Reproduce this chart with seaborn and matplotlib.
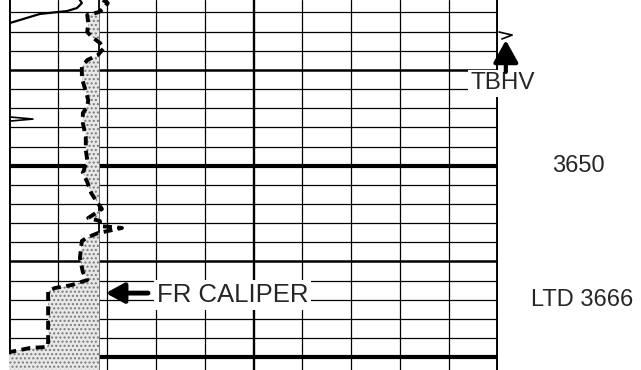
import matplotlib
matplotlib.use("Agg")
import matplotlib.pyplot as plt
import seaborn as sns
import numpy as np
import pandas as pd

# caliper log (inches) vs depth
depth = [3632.70, 3633.02, 3633.54, 3633.96, 3634.27, 3635.10, 3636.04, 3636.57,
         3637.19, 3637.71, 3638.44, 3638.97, 3639.70, 3640.85, 3641.89, 3643.14,
         3643.87, 3644.50, 3645.54, 3647.00, 3648.36, 3649.40, 3650.76, 3651.70,
         3652.85, 3653.79, 3654.52, 3655.46, 3655.77, 3656.30, 3656.50, 3656.82,
         3657.03, 3657.45, 3657.86, 3659.64, 3661.10, 3661.93, 3662.45, 3662.77,
         3663.08, 3665.27, 3668.40, 3668.92, 3669.03, 3669.45, 3669.65, 3671.50]
caliper = [7.92, 8.02, 7.94, 7.84, 7.60, 7.62, 7.60, 7.70,
           7.86, 7.94, 7.82, 7.60, 7.49, 7.49, 7.55, 7.62,
           7.60, 7.51, 7.51, 7.57, 7.57, 7.60, 7.51, 7.60,
           7.68, 7.80, 7.90, 7.62, 7.86, 7.86, 8.31, 8.02,
           7.82, 7.62, 7.49, 7.45, 7.51, 7.60, 7.29, 6.94,
           6.80, 6.80, 6.80, 6.78, 6.43, 6.02, 5.82, 5.50]
bit_size = 7.85

# second (solid) curve, top part and the small kick
solid_depth = [3632.50, 3632.70, 3633.02, 3633.54, 3633.85, 3634.16, 3635.10, 3635.40]
solid_val = [7.43, 7.45, 7.49, 7.39, 7.19, 6.63, 6.02, 5.82]
kick_depth = [3644.81, 3645.13, 3645.44]
kick_val = [5.80, 6.49, 5.80]

# TBHV flag
flag_depth = [3636.04, 3636.36, 3636.77]
flag_val = [16.02, 16.29, 16.08]

x_min, x_max = 6, 16
top, bottom = 3632.70, 3671.33

sns.set_style("white")
plt.rcParams['font.family'] = ['Liberation Sans', 'DejaVu Sans']

fig = plt.figure(figsize=(6.41, 3.70), dpi=100)
ax = fig.add_axes([9 / 641, 0, 489 / 641, 1])
ax.set_xlim(x_min, x_max)
ax.set_ylim(bottom, top)
ax.axis("off")

# grid
for x in range(x_min, x_max + 1):
    lw = 0.9
    if x == 11:
        lw = 1.7
    if x in (x_min, x_max):
        lw = 2.8
    ax.axvline(x, color="black", lw=lw, zorder=1)
for d in np.arange(3634, 3672, 2):
    lw = 0.9
    if d % 10 == 0:
        lw = 1.8
    if d % 20 == 10:
        lw = 3.0
    ax.axhline(d, color="black", lw=lw, zorder=1)
ax.axvline(bit_size, color="black", lw=1.3, zorder=1)

# shading between caliper and bit size
cal = np.array(caliper)
ax.fill_betweenx(depth, cal, bit_size, where=cal < bit_size, interpolate=True,
                 facecolor="#e8e8e8", edgecolor="#7a7a7a", hatch="....",
                 linewidth=0, zorder=2)

df = pd.DataFrame({"depth": depth, "caliper": caliper})
sns.lineplot(data=df, x="caliper", y="depth", sort=False, estimator=None,
             color="black", lw=2.8, linestyle=(0, (2.3, 1.4)), ax=ax, zorder=4)
sns.lineplot(x=solid_val, y=solid_depth, sort=False, estimator=None,
             color="black", lw=1.6, ax=ax, zorder=4)
sns.lineplot(x=kick_val, y=kick_depth, sort=False, estimator=None,
             color="black", lw=1.2, ax=ax, zorder=4)
ax.plot(flag_val, flag_depth, color="black", lw=1.2, clip_on=False, zorder=4)

# labels
box = dict(facecolor="white", edgecolor="none", pad=2)
ax.annotate("", xy=(7.92, 3663.3), xytext=(8.90, 3663.3),
            arrowprops=dict(arrowstyle="-|>,head_length=1.1,head_width=0.6",
                            color="black", lw=3.5), zorder=6)
ax.text(9.02, 3663.5, "FR CALIPER", fontsize=18.5, va="center", ha="left",
        bbox=box, zorder=5)
ax.annotate("", xy=(16.16, 3636.6), xytext=(16.16, 3640.5),
            arrowprops=dict(arrowstyle="-|>,head_length=1.35,head_width=0.75",
                            color="black", lw=3.0), annotation_clip=False, zorder=6)
ax.text(16.10, 3641.4, "TBHV", fontsize=17.5, va="center", ha="center",
        bbox=box, zorder=5, clip_on=False)
ax.text(17.64, 3650.0, "3650", fontsize=17, va="center", ha="center", clip_on=False)
ax.text(17.72, 3664.0, "LTD 3666", fontsize=17, va="center", ha="center", clip_on=False)

fig.savefig("out.png", dpi=100)
